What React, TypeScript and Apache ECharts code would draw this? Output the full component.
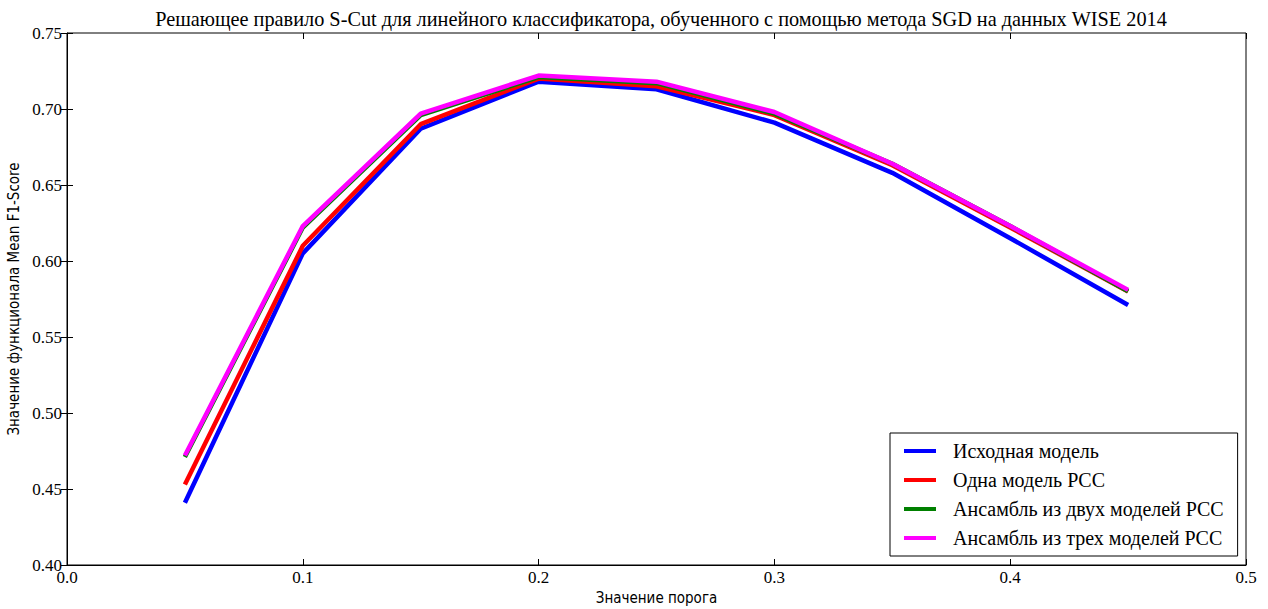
import React, { useEffect, useRef } from "react";
import * as echarts from "echarts";

const thresholds = [0.05, 0.1, 0.15, 0.2, 0.25, 0.3, 0.35, 0.4, 0.45];
const baseModel = [0.441, 0.605, 0.687, 0.718, 0.713, 0.691, 0.658, 0.615, 0.571];
const onePCC = [0.453, 0.61, 0.69, 0.72, 0.715, 0.696, 0.663, 0.622, 0.58];
const twoPCC = [0.471, 0.622, 0.696, 0.721, 0.717, 0.697, 0.664, 0.623, 0.58];
const threePCC = [0.472, 0.623, 0.697, 0.722, 0.718, 0.698, 0.664, 0.623, 0.581];

const seriesNames = [
  "Исходная модель",
  "Одна модель PCC",
  "Ансамбль из двух моделей PCC",
  "Ансамбль из трех моделей PCC",
];
const seriesColors = ["#0000ff", "#ff0000", "#008000", "#ff00ff"];
const seriesValues = [baseModel, onePCC, twoPCC, threePCC];

const titleText =
  "Решающее правило S-Cut для линейного классификатора, обученного с помощью метода SGD на данных WISE 2014";
const xName = "Значение порога";
const yName = "Значение функционала Mean F1-Score";

const FONT = "'Liberation Serif', 'DejaVu Serif', serif";
const NAME_FONT = "'DejaVu Sans Condensed', 'DejaVu Sans', sans-serif";

export default function App() {
  const ref = useRef<HTMLDivElement>(null);
  useEffect(() => {
    document.body.style.margin = "0";
    const chart = echarts.init(ref.current!, null, { renderer: "svg" });
    const tickStyle = { inside: true, length: 6, lineStyle: { color: "#000", width: 1 } };
    chart.setOption({
      animation: false,
      backgroundColor: "#fff",
      textStyle: { fontFamily: FONT },
      title: {
        text: titleText,
        left: 656,
        textAlign: "center",
        top: 4,
        textStyle: { fontFamily: FONT, fontSize: 20.3, fontWeight: "normal", color: "#000" },
      },
      grid: {
        left: 67,
        right: 22,
        top: 33,
        bottom: 44,
        show: true,
        borderColor: "#000",
        borderWidth: 1,
        outerBoundsMode: "none",
        containLabel: false,
      },
      legend: {
        orient: "vertical",
        left: 890,
        top: 433,
        width: 347,
        backgroundColor: "#fff",
        borderColor: "#000",
        borderWidth: 1,
        padding: [8, 14, 8, 14],
        itemGap: 9,
        itemWidth: 32,
        itemHeight: 4,
        icon: "rect",
        data: seriesNames,
        textStyle: { fontFamily: FONT, fontSize: 20, color: "#000", padding: [0, 0, 0, 12] },
      },
      xAxis: [
        {
          type: "value",
          min: 0,
          max: 0.5,
          interval: 0.1,
          name: xName,
          nameLocation: "middle",
          nameGap: 24,
          nameTextStyle: { fontFamily: NAME_FONT, fontSize: 15, color: "#000" },
          axisLine: { lineStyle: { color: "#000" } },
          axisTick: tickStyle,
          splitLine: { show: false },
          axisLabel: {
            fontFamily: FONT,
            fontSize: 17,
            color: "#000",
            margin: 4,
            formatter: (v: number) => v.toFixed(1),
          },
        },
        {
          type: "value",
          position: "top",
          min: 0,
          max: 0.5,
          interval: 0.1,
          axisLine: { show: false },
          axisTick: tickStyle,
          axisLabel: { show: false },
          splitLine: { show: false },
        },
      ],
      yAxis: [
        {
          type: "value",
          min: 0.4,
          max: 0.75,
          interval: 0.05,
          name: yName,
          nameLocation: "middle",
          nameGap: 43,
          nameTextStyle: { fontFamily: NAME_FONT, fontSize: 15, color: "#000" },
          axisLine: { show: true, lineStyle: { color: "#000" } },
          axisTick: { show: true, ...tickStyle },
          splitLine: { show: false },
          axisLabel: {
            fontFamily: FONT,
            fontSize: 17,
            color: "#000",
            margin: 5,
            formatter: (v: number) => v.toFixed(2),
          },
        },
        {
          type: "value",
          position: "right",
          min: 0.4,
          max: 0.75,
          interval: 0.05,
          axisLine: { show: false },
          axisTick: { show: true, ...tickStyle },
          axisLabel: { show: false },
          splitLine: { show: false },
        },
      ],
      series: seriesNames.map((name, i) => ({
        name,
        type: "line",
        data: thresholds.map((t, j) => [t, seriesValues[i][j]]),
        showSymbol: false,
        symbol: "none",
        color: seriesColors[i],
        lineStyle: { color: seriesColors[i], width: 4.5 },
        xAxisIndex: 0,
        yAxisIndex: 0,
      })),
    });
    return () => chart.dispose();
  }, []);
  return <div ref={ref} style={{ width: 1268, height: 609 }} />;
}
